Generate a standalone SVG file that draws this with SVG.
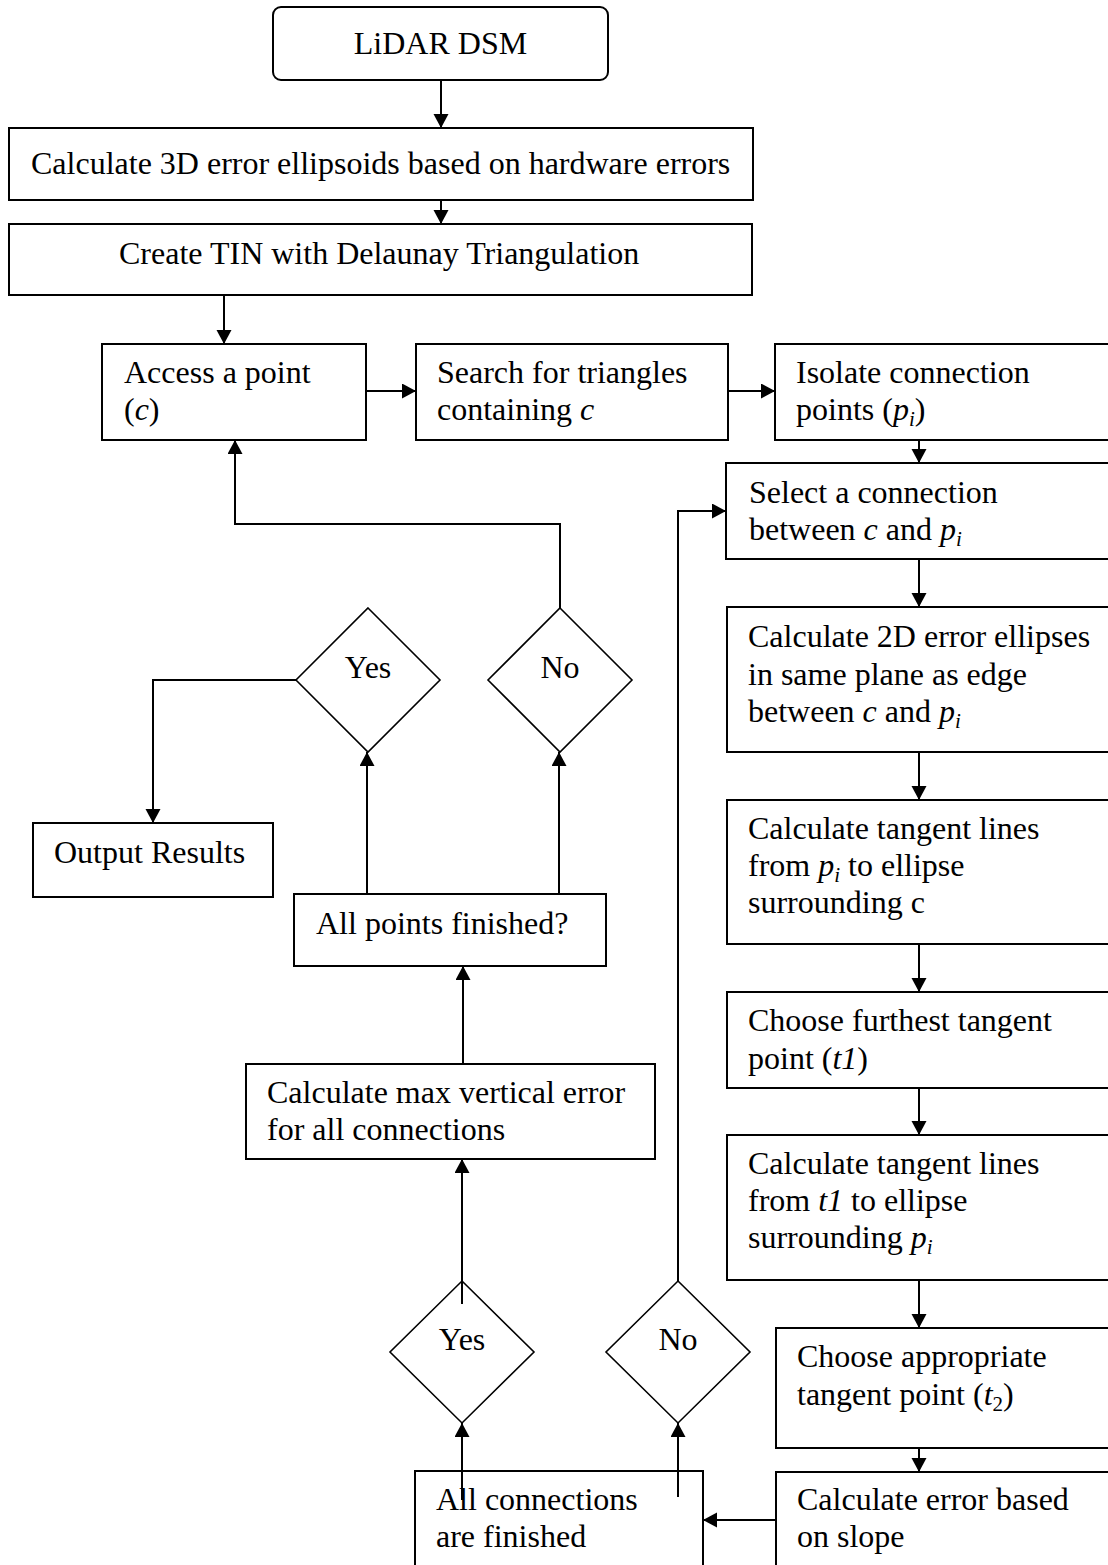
<svg xmlns="http://www.w3.org/2000/svg" width="1108" height="1565" viewBox="0 0 1108 1565">
<style>
  .box { fill: #ffffff; stroke: #000000; stroke-width: 2; }
  .dia { fill: #ffffff; stroke: #000000; stroke-width: 1.6; }
  .t { font-family: "Liberation Serif", "Times New Roman", serif; font-size: 32px; fill: #000000; }
  .i { font-style: italic; }
  .conn { fill: none; stroke: #000000; stroke-width: 2; }
</style>
<defs>
  <marker id="arr" markerUnits="userSpaceOnUse" markerWidth="16" markerHeight="16" refX="14" refY="7.5" orient="auto">
    <path d="M0,0 L14,7.5 L0,15 z" fill="#000000"/>
  </marker>
</defs>
<rect width="1108" height="1565" fill="#ffffff"/>

<g id="n-lidar">
  <rect class="box" x="273" y="7" width="335" height="73" rx="8" ry="8"/>
  <text class="t" x="440.5" y="54" text-anchor="middle">LiDAR DSM</text>
</g>
<g id="n-calc3d">
  <rect class="box" x="9" y="128" width="744" height="72"/>
  <text class="t" x="31" y="174">Calculate 3D error ellipsoids based on hardware errors</text>
</g>
<g id="n-tin">
  <rect class="box" x="9" y="224" width="743" height="71"/>
  <text class="t" x="119" y="264">Create TIN with Delaunay Triangulation</text>
</g>
<g id="n-access">
  <rect class="box" x="102" y="344" width="264" height="96"/>
  <text class="t" x="124" y="383">Access a point</text>
  <text class="t" x="124" y="420">(<tspan class="i">c</tspan>)</text>
</g>
<g id="n-search">
  <rect class="box" x="416" y="344" width="312" height="96"/>
  <text class="t" x="437" y="383">Search for triangles</text>
  <text class="t" x="437" y="420">containing <tspan class="i">c</tspan></text>
</g>
<g id="n-isolate">
  <rect class="box" x="775" y="344" width="345" height="96"/>
  <text class="t" x="796" y="383">Isolate connection</text>
  <text class="t" x="796" y="420">points (<tspan class="i">p</tspan><tspan class="i" font-size="21" dy="6">i</tspan><tspan dy="-6">)</tspan></text>
</g>
<g id="n-select">
  <rect class="box" x="726" y="463" width="394" height="96"/>
  <text class="t" x="749" y="503">Select a connection</text>
  <text class="t" x="749" y="540">between <tspan class="i">c</tspan> and <tspan class="i">p</tspan><tspan class="i" font-size="21" dy="6">i</tspan></text>
</g>
<g id="n-calc2d">
  <rect class="box" x="727" y="607" width="393" height="145"/>
  <text class="t" x="748" y="647">Calculate 2D error ellipses</text>
  <text class="t" x="748" y="685">in same plane as edge</text>
  <text class="t" x="748" y="722">between <tspan class="i">c</tspan> and <tspan class="i">p</tspan><tspan class="i" font-size="21" dy="6">i</tspan></text>
</g>
<g id="n-tangent-pi">
  <rect class="box" x="727" y="800" width="393" height="144"/>
  <text class="t" x="748" y="839">Calculate tangent lines</text>
  <text class="t" x="748" y="876">from <tspan class="i">p</tspan><tspan class="i" font-size="21" dy="6">i</tspan><tspan dy="-6"> to ellipse</tspan></text>
  <text class="t" x="748" y="913">surrounding c</text>
</g>
<g id="n-furthest">
  <rect class="box" x="727" y="992" width="393" height="96"/>
  <text class="t" x="748" y="1031">Choose furthest tangent</text>
  <text class="t" x="748" y="1069">point (<tspan class="i">t1</tspan>)</text>
</g>
<g id="n-tangent-t1">
  <rect class="box" x="727" y="1135" width="393" height="145"/>
  <text class="t" x="748" y="1174">Calculate tangent lines</text>
  <text class="t" x="748" y="1211">from <tspan class="i">t1</tspan> to ellipse</text>
  <text class="t" x="748" y="1248">surrounding <tspan class="i">p</tspan><tspan class="i" font-size="21" dy="6">i</tspan></text>
</g>
<g id="n-appropriate">
  <rect class="box" x="776" y="1328" width="344" height="120"/>
  <text class="t" x="797" y="1367">Choose appropriate</text>
  <text class="t" x="797" y="1405">tangent point (<tspan class="i">t</tspan><tspan font-size="21" dy="6">2</tspan><tspan dy="-6">)</tspan></text>
</g>
<g id="n-error">
  <rect class="box" x="776" y="1472" width="344" height="110"/>
  <text class="t" x="797" y="1510">Calculate error based</text>
  <text class="t" x="797" y="1547">on slope</text>
</g>
<g id="n-allconn">
  <rect class="box" x="415" y="1471" width="288" height="111"/>
  <text class="t" x="436" y="1510">All connections</text>
  <text class="t" x="436" y="1547">are finished</text>
</g>
<g id="n-yes2">
  <polygon class="dia" points="462,1281 534,1352 462,1423 390,1352"/>
  <text class="t" x="462" y="1350" text-anchor="middle">Yes</text>
</g>
<g id="n-no2">
  <polygon class="dia" points="678,1281 750,1352 678,1423 606,1352"/>
  <text class="t" x="678" y="1350" text-anchor="middle">No</text>
</g>
<g id="n-calcmax">
  <rect class="box" x="246" y="1064" width="409" height="95"/>
  <text class="t" x="267" y="1103">Calculate max vertical error</text>
  <text class="t" x="267" y="1140">for all connections</text>
</g>
<g id="n-allpoints">
  <rect class="box" x="294" y="894" width="312" height="72"/>
  <text class="t" x="316" y="934">All points finished?</text>
</g>
<g id="n-yes1">
  <polygon class="dia" points="368,608 440,680 368,752 296,680"/>
  <text class="t" x="368" y="678" text-anchor="middle">Yes</text>
</g>
<g id="n-no1">
  <polygon class="dia" points="560,608 632,680 560,752 488,680"/>
  <text class="t" x="560" y="678" text-anchor="middle">No</text>
</g>
<g id="n-output">
  <rect class="box" x="33" y="823" width="240" height="74"/>
  <text class="t" x="54" y="863">Output Results</text>
</g>

<g id="connectors">
  <path class="conn" d="M441,80 V128" marker-end="url(#arr)"/>
  <path class="conn" d="M441,200 V224" marker-end="url(#arr)"/>
  <path class="conn" d="M224,295 V344" marker-end="url(#arr)"/>
  <path class="conn" d="M366,391 H416" marker-end="url(#arr)"/>
  <path class="conn" d="M728,391 H775" marker-end="url(#arr)"/>
  <path class="conn" d="M919,440 V463" marker-end="url(#arr)"/>
  <path class="conn" d="M919,559 V607" marker-end="url(#arr)"/>
  <path class="conn" d="M919,752 V800" marker-end="url(#arr)"/>
  <path class="conn" d="M919,944 V992" marker-end="url(#arr)"/>
  <path class="conn" d="M919,1088 V1135" marker-end="url(#arr)"/>
  <path class="conn" d="M919,1280 V1328" marker-end="url(#arr)"/>
  <path class="conn" d="M919,1448 V1472" marker-end="url(#arr)"/>
  <path class="conn" d="M776,1520 H703" marker-end="url(#arr)"/>
  <path class="conn" d="M462,1500 V1423" marker-end="url(#arr)"/>
  <path class="conn" d="M678,1497 V1423" marker-end="url(#arr)"/>
  <path class="conn" d="M678,1281 V511 H726" marker-end="url(#arr)"/>
  <path class="conn" d="M462,1304 V1159" marker-end="url(#arr)"/>
  <path class="conn" d="M463,1064 V966" marker-end="url(#arr)"/>
  <path class="conn" d="M367,894 V752" marker-end="url(#arr)"/>
  <path class="conn" d="M559,894 V752" marker-end="url(#arr)"/>
  <path class="conn" d="M560,608 V524 H235 V440" marker-end="url(#arr)"/>
  <path class="conn" d="M296,680 H153 V823" marker-end="url(#arr)"/>
</g>
</svg>
